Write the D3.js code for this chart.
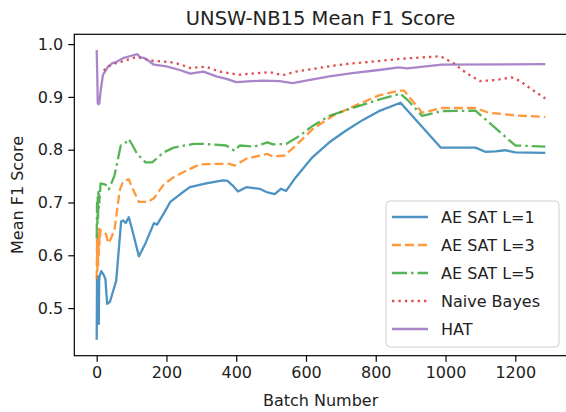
<!DOCTYPE html>
<html>
<head>
<meta charset="utf-8">
<script src="https://cdn.jsdelivr.net/npm/d3@7"></script>
<style>
  body { margin: 0; background: #fff; }
  svg { font-family: "DejaVu Sans", sans-serif; }
</style>
</head>
<body>
<svg id="chart" width="566" height="412"></svg>
<script>
// [batch, mean F1] pairs
const aeSat1 = [
  [0, 0.44], [1, 0.56], [2, 0.47], [3, 0.55], [4, 0.48], [5, 0.56], [6, 0.47], [7, 0.55], [8, 0.56],
  [13, 0.570], [20, 0.563], [25, 0.555], [30, 0.508], [38, 0.512], [56, 0.552], [70, 0.664], [76, 0.666],
  [83, 0.661], [92, 0.672], [102, 0.648], [121, 0.598], [140, 0.623], [164, 0.661], [173, 0.658],
  [192, 0.679], [211, 0.701], [240, 0.716], [267, 0.729], [314, 0.736], [362, 0.742], [375, 0.741],
  [390, 0.732], [405, 0.721], [429, 0.729], [467, 0.726], [490, 0.719], [510, 0.716], [528, 0.726],
  [543, 0.722], [571, 0.748], [619, 0.786], [667, 0.814], [714, 0.836], [762, 0.856], [809, 0.873],
  [871, 0.889], [986, 0.804], [1086, 0.804], [1114, 0.796], [1143, 0.797], [1171, 0.799], [1200, 0.795],
  [1286, 0.794]
];
const aeSat3 = [
  [0, 0.555], [1, 0.63], [2, 0.57], [3, 0.62], [4, 0.58], [5, 0.64], [6, 0.60], [7, 0.65], [8, 0.62],
  [11, 0.648], [18, 0.645], [27, 0.640], [33, 0.623], [37, 0.626], [51, 0.648], [66, 0.723], [75, 0.739],
  [82, 0.742], [92, 0.744], [102, 0.728], [121, 0.701], [145, 0.701], [164, 0.708], [192, 0.734],
  [221, 0.748], [259, 0.761], [295, 0.772], [330, 0.773], [381, 0.773], [395, 0.770], [429, 0.783],
  [490, 0.792], [505, 0.787], [538, 0.789], [571, 0.808], [619, 0.839], [676, 0.864], [743, 0.884],
  [809, 0.903], [867, 0.912], [881, 0.912], [933, 0.870], [990, 0.879], [1086, 0.879], [1124, 0.870],
  [1200, 0.865], [1286, 0.862]
];
const aeSat5 = [
  [0, 0.632], [1, 0.70], [2, 0.66], [3, 0.71], [4, 0.67], [5, 0.72], [6, 0.69], [7, 0.715], [8, 0.70],
  [11, 0.736], [20, 0.735], [30, 0.732], [35, 0.725], [51, 0.751], [69, 0.808], [80, 0.811], [92, 0.820],
  [103, 0.808], [116, 0.792], [140, 0.776], [159, 0.776], [192, 0.795], [221, 0.804], [278, 0.811],
  [305, 0.811], [371, 0.808], [395, 0.798], [410, 0.808], [452, 0.806], [490, 0.814], [505, 0.810],
  [543, 0.811], [581, 0.826], [619, 0.845], [667, 0.864], [733, 0.879], [809, 0.895], [871, 0.906],
  [890, 0.895], [933, 0.864], [990, 0.873], [1086, 0.874], [1200, 0.808], [1286, 0.806]
];
const naiveBayes = [
  [20, 0.950], [35, 0.958], [55, 0.964], [78, 0.968], [116, 0.976], [154, 0.969], [211, 0.966],
  [238, 0.962], [267, 0.955], [314, 0.957], [352, 0.948], [409, 0.942], [495, 0.947], [533, 0.941],
  [571, 0.948], [667, 0.958], [724, 0.963], [809, 0.968], [867, 0.972], [986, 0.977], [1023, 0.964],
  [1060, 0.945], [1099, 0.930], [1143, 0.932], [1190, 0.937], [1214, 0.930], [1250, 0.913], [1286, 0.897]
];
const hat = [
  [0, 0.989], [2, 0.93], [3, 0.888], [4, 0.895], [5, 0.886], [6, 0.893], [7, 0.887], [8, 0.89],
  [12, 0.915], [18, 0.942], [26, 0.950], [32, 0.957], [45, 0.964], [56, 0.966], [78, 0.974], [100, 0.978],
  [116, 0.981], [125, 0.975], [135, 0.974], [150, 0.968], [164, 0.961], [200, 0.958], [238, 0.951],
  [268, 0.944], [306, 0.948], [343, 0.939], [372, 0.934], [400, 0.928], [476, 0.931], [524, 0.930],
  [562, 0.926], [600, 0.931], [667, 0.939], [733, 0.945], [809, 0.951], [867, 0.956], [890, 0.954],
  [990, 0.961], [1286, 0.962]
];

const seriesNames = ["AE SAT L=1", "AE SAT L=3", "AE SAT L=5", "Naive Bayes", "HAT"];
const xTicks = [0, 200, 400, 600, 800, 1000, 1200];
const yTicks = [0.5, 0.6, 0.7, 0.8, 0.9, 1.0];

const series = [
  { name: seriesNames[0], data: aeSat1, color: "#1f77b4", dash: null },
  { name: seriesNames[1], data: aeSat3, color: "#ff7f0e", dash: "9,4" },
  { name: seriesNames[2], data: aeSat5, color: "#2ca02c", dash: "15,4,2.5,4" },
  { name: seriesNames[3], data: naiveBayes, color: "#d62728", dash: "2.4,4" },
  { name: seriesNames[4], data: hat, color: "#9467bd", dash: null }
];

const svg = d3.select("#chart");
const plot = { left: 74.3, right: 566.9, top: 34.3, bottom: 355.7 };

const x = d3.scaleLinear().domain([-64.2, 1348]).range([plot.left, plot.right]);
const y = d3.scaleLinear().domain([0.4098, 1.0186]).range([plot.bottom, plot.top]);

const lw = 2.3;

// axes
const xAxis = svg.append("g")
  .attr("transform", `translate(0,${plot.bottom})`)
  .call(d3.axisBottom(x).tickValues(xTicks).tickSize(6).tickPadding(5).tickFormat(d3.format("d")));
const yAxis = svg.append("g")
  .attr("transform", `translate(${plot.left},0)`)
  .call(d3.axisLeft(y).tickValues(yTicks).tickSize(6).tickPadding(5).tickFormat(d3.format(".1f")));

[xAxis, yAxis].forEach(a => {
  a.select(".domain").remove();
  a.selectAll(".tick line").attr("stroke", "#000").attr("stroke-width", 1.2);
  a.selectAll(".tick text")
    .attr("fill", "#222")
    .style("font-size", "16px")
    .style("font-family", "DejaVu Sans");
});

// lines
const line = d3.line().x(d => x(d[0])).y(d => y(d[1]));
svg.append("clipPath").attr("id", "clip")
  .append("rect")
  .attr("x", plot.left).attr("y", plot.top)
  .attr("width", plot.right - plot.left).attr("height", plot.bottom - plot.top);

svg.append("g").attr("clip-path", "url(#clip)")
  .selectAll("path")
  .data(series)
  .enter()
  .append("path")
  .attr("d", d => line(d.data))
  .attr("fill", "none")
  .attr("stroke", d => d.color)
  .attr("stroke-opacity", 0.8)
  .attr("stroke-width", lw)
  .attr("stroke-linejoin", "round")
  .attr("stroke-dasharray", d => d.dash);

// frame
svg.append("rect")
  .attr("x", plot.left).attr("y", plot.top)
  .attr("width", plot.right - plot.left).attr("height", plot.bottom - plot.top)
  .attr("fill", "none")
  .attr("stroke", "#000")
  .attr("stroke-width", 1.2);

// titles
const midX = (plot.left + plot.right) / 2;
svg.append("text")
  .attr("x", midX).attr("y", 25)
  .attr("text-anchor", "middle")
  .attr("fill", "#222")
  .style("font-size", "19.5px")
  .text("UNSW-NB15 Mean F1 Score");

svg.append("text")
  .attr("x", midX).attr("y", 406)
  .attr("text-anchor", "middle")
  .attr("fill", "#222")
  .style("font-size", "16px")
  .text("Batch Number");

svg.append("text")
  .attr("transform", `translate(23,${(plot.top + plot.bottom) / 2}) rotate(-90)`)
  .attr("text-anchor", "middle")
  .attr("fill", "#222")
  .style("font-size", "16px")
  .text("Mean F1 Score");

// legend
const lg = svg.append("g").attr("transform", "translate(386,201)");
lg.append("rect")
  .attr("width", 173).attr("height", 146)
  .attr("rx", 4)
  .attr("fill", "#fff").attr("fill-opacity", 0.8)
  .attr("stroke", "#d0d0d0").attr("stroke-width", 1);

const rows = lg.selectAll("g.row")
  .data(series)
  .enter().append("g")
  .attr("class", "row")
  .attr("transform", (d, i) => `translate(0,${16 + i * 28})`);

rows.append("line")
  .attr("x1", 6).attr("x2", 42)
  .attr("stroke", d => d.color)
  .attr("stroke-opacity", 0.8)
  .attr("stroke-width", lw)
  .attr("stroke-dasharray", d => d.dash);

rows.append("text")
  .attr("x", 55).attr("dy", "0.35em")
  .attr("fill", "#222")
  .style("font-size", "16px")
  .text(d => d.name);
</script>
</body>
</html>
